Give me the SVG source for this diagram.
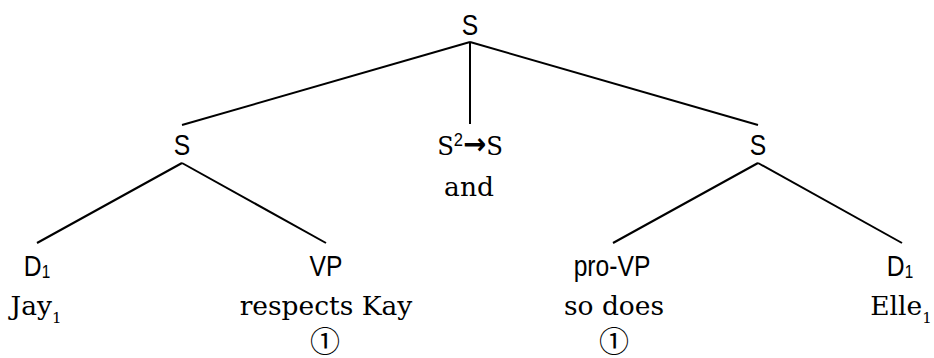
<svg xmlns="http://www.w3.org/2000/svg" width="934" height="358" viewBox="0 0 934 358">
<style>
.cat{font-family:"Liberation Sans",Arial,sans-serif;font-size:29px;fill:#000;text-anchor:middle}
.sub{font-family:"Liberation Sans",Arial,sans-serif;font-size:18px}
.w{font-family:"DejaVu Serif","Noto Sans CJK JP",serif;font-size:26.5px;fill:#000;text-anchor:middle}
.ws{font-size:15px}
.c{font-family:"DejaVu Serif","Noto Sans CJK JP",serif;font-size:30px;fill:#000;text-anchor:middle}
.arr{font-family:"DejaVu Sans",sans-serif;font-weight:bold;font-size:30px}
.e{stroke:#000;stroke-width:2;fill:none;stroke-linecap:butt}
</style>
<rect width="934" height="358" fill="#fff"/>
<g id="connectors">
<line class="e" x1="470" y1="42" x2="182" y2="125"/>
<line class="e" x1="470" y1="42" x2="470" y2="124"/>
<line class="e" x1="470" y1="42" x2="758" y2="125"/>
<line class="e" x1="182" y1="163" x2="37" y2="243"/>
<line class="e" x1="182" y1="163" x2="326" y2="243"/>
<line class="e" x1="758" y1="163" x2="613" y2="243"/>
<line class="e" x1="758" y1="163" x2="902" y2="243"/>
</g>
<g id="root"><text class="cat" transform="matrix(0.85 0 0 1 470 35)">S</text></g>
<g id="s-left"><text class="cat" transform="matrix(0.85 0 0 1 182 155)">S</text></g>
<g id="s-right"><text class="cat" transform="matrix(0.85 0 0 1 758 155)">S</text></g>
<g id="conj">
<text class="w" transform="matrix(0.92 0 0 1 470 155)">S<tspan class="sub" dy="-9">2</tspan><tspan class="arr" dy="8">→</tspan><tspan dy="1">S</tspan></text>
<text class="w" x="469" y="196">and</text>
</g>
<g id="d-left">
<text class="cat" transform="matrix(0.85 0 0 1 37 276)">D<tspan class="sub" dy="2">1</tspan></text>
<text class="w" x="36" y="315">Jay<tspan class="ws" dy="8">1</tspan></text>
</g>
<g id="vp">
<text class="cat" transform="matrix(0.85 0 0 1 326 276)">VP</text>
<text class="w" x="326" y="315">respects Kay</text>
<text class="c" x="325" y="352">①</text>
</g>
<g id="pro-vp">
<text class="cat" transform="matrix(0.85 0 0 1 612 276)">pro-VP</text>
<text class="w" x="614" y="315">so does</text>
<text class="c" x="614" y="352">①</text>
</g>
<g id="d-right">
<text class="cat" transform="matrix(0.85 0 0 1 900 276)">D<tspan class="sub" dy="2">1</tspan></text>
<text class="w" x="901" y="315">Elle<tspan class="ws" dy="8">1</tspan></text>
</g>
</svg>
